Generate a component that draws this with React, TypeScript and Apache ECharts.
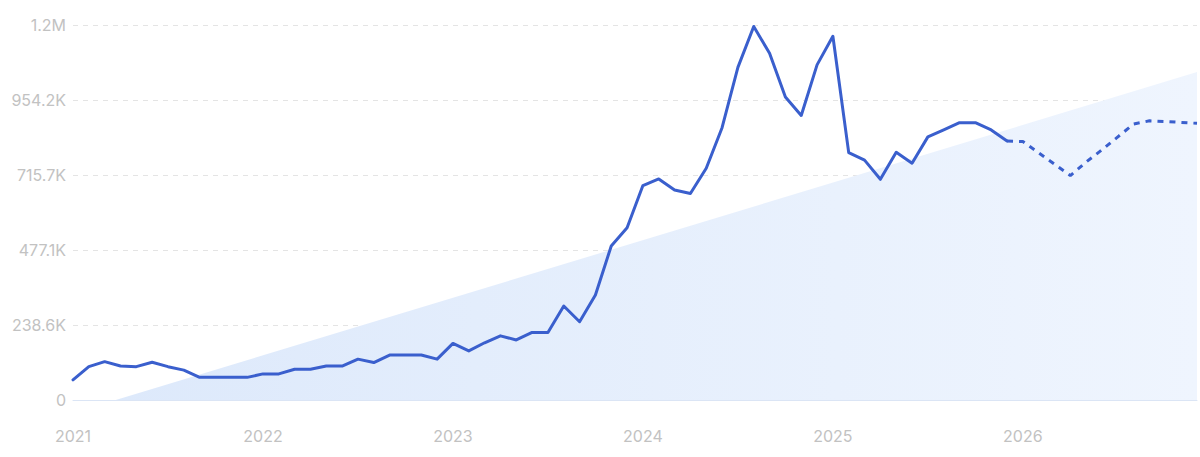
import React, { useEffect, useRef } from "react";
import * as echarts from "echarts";

// Monthly values, Jan 2021 .. Dec 2025 (actual)
const actualValues: number[] = [
  64000, 106000, 122000, 108000, 106000, 120000, 106000, 95000, 72000, 72000, 72000, 72000,
  83000, 83000, 98000, 98000, 108000, 108000, 130000, 119000, 143000, 143000, 143000, 130000,
  180000, 156000, 182000, 204000, 191000, 215000, 215000, 299000, 249000, 334000, 490000, 548000,
  682000, 703000, 668000, 657000, 737000, 866000, 1058000, 1188000, 1103000, 964000, 905000, 1066000,
  1157000, 787000, 763000, 702000, 788000, 753000, 837000, 859000, 882000, 882000, 859000, 824000,
];
// Forecast, Dec 2025 .. Dec 2026
const forecastValues: number[] = [
  824000, 822000, 786000, 750000, 714000, 757000, 796000, 837000, 878000, 888000, 886000, 883000, 880000,
];
const forecastStartIndex = 59;
const firstYear = 2021;
// Trend band: [month index, value]
const trendPoints: [number, number][] = [
  [2.7, 0],
  [71, 1043000],
];
const yMax = 1192800;
const yStep = 238560;

function fmtY(v: number): string {
  if (v === 0) return "0";
  if (v >= 1e6) return (v / 1e6).toFixed(1) + "M";
  return (v / 1000).toFixed(1) + "K";
}

export default function App() {
  const ref = useRef<HTMLDivElement>(null);
  useEffect(() => {
    if (!ref.current) return;
    const chart = echarts.init(ref.current, undefined, { renderer: "svg" });
    const labelStyle = { color: "#c2c2c2", fontSize: 16, fontFamily: "Inter" };
    chart.setOption({
      animation: false,
      backgroundColor: "#ffffff",
      grid: { left: 73, right: 3, top: 25, bottom: 57, containLabel: false },
      xAxis: {
        type: "value",
        min: 0,
        max: 71,
        interval: 12,
        axisLine: { show: true, lineStyle: { color: "#dbe5f5", width: 1 } },
        axisTick: { show: false },
        splitLine: { show: false },
        axisLabel: {
          ...labelStyle,
          margin: 28,
          showMaxLabel: false,
          formatter: (v: number) => (v % 12 === 0 ? String(firstYear + v / 12) : ""),
        },
      },
      yAxis: {
        type: "value",
        min: 0,
        max: yMax,
        interval: yStep,
        axisLine: { show: false },
        axisTick: { show: false },
        splitLine: { show: true, lineStyle: { color: "#e4e4e4", type: [5, 5], width: 1 } },
        axisLabel: { ...labelStyle, margin: 7, formatter: fmtY },
      },
      series: [
        {
          type: "line",
          data: trendPoints,
          symbol: "none",
          lineStyle: { width: 0 },
          areaStyle: {
            opacity: 1,
            color: new echarts.graphic.LinearGradient(0, 0, 1, 0, [
              { offset: 0, color: "#dde9fb" },
              { offset: 1, color: "#eff5fe" },
            ]),
          },
          z: 1,
        },
        {
          type: "line",
          data: actualValues.map((v, i) => [i, v]),
          symbol: "none",
          lineStyle: { color: "#3a5fcd", width: 3, join: "round", cap: "round" },
          z: 3,
        },
        {
          type: "line",
          data: forecastValues.map((v, i) => [forecastStartIndex + i, v]),
          symbol: "none",
          lineStyle: { color: "#3a5fcd", width: 3, type: [6, 6] },
          z: 3,
        },
      ],
    });
    return () => chart.dispose();
  }, []);
  return (
    <div
      ref={ref}
      style={{ position: "fixed", left: 0, top: 0, width: 1200, height: 457, background: "#fff" }}
    />
  );
}
